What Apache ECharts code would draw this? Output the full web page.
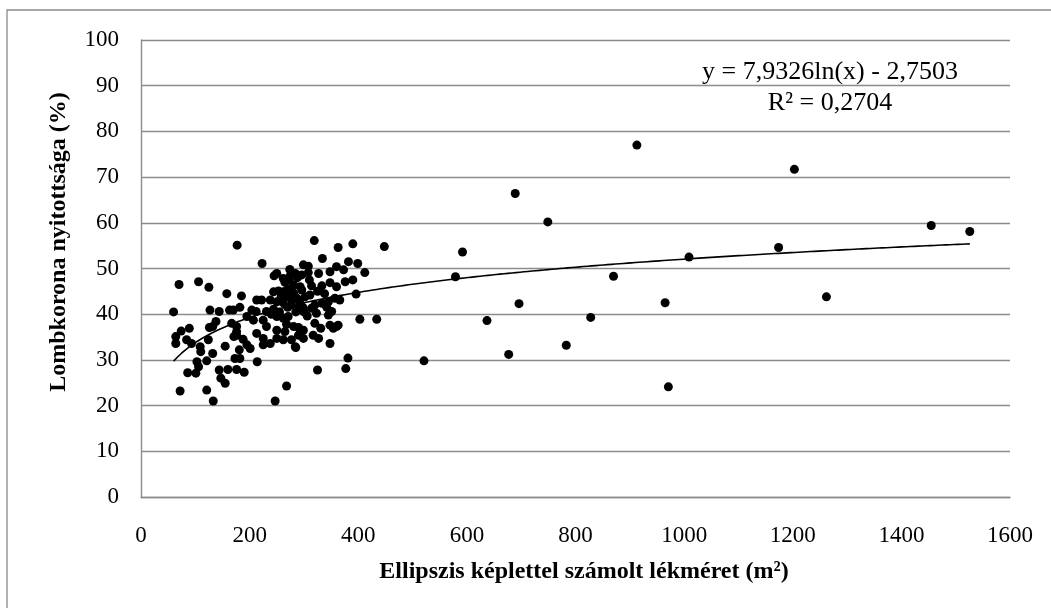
<!DOCTYPE html>
<html>
<head>
<meta charset="utf-8">
<title>Lombkorona nyitottsága</title>
<script src="https://cdn.jsdelivr.net/npm/echarts@6/dist/echarts.min.js"></script>
<style>
  html, body { margin: 0; padding: 0; background: #fff; }
  #chart { width: 1051px; height: 608px; }
</style>
</head>
<body>
<div id="chart"></div>
<script>
// small gaps on the left, x < 165
var leftPoints = [
    [60, 40.5], [64, 35.1], [64, 33.6], [70, 46.5], [72, 23.2], [74, 36.3], [84, 34.4], [86, 27.2],
    [89, 36.9], [93, 33.6], [101, 27.1], [103, 29.6], [106, 28.5], [106, 47.1], [109, 32.9], [110, 31.8],
    [121, 29.8], [121, 23.4], [124, 34.4], [125, 45.9], [127, 40.9], [132, 37.3], [132, 31.4], [133, 21.0],
    [138, 38.4], [144, 40.6], [144, 27.8], [147, 26.0], [155, 24.9], [155, 33.0], [158, 44.5], [160, 27.9],
    [163, 40.9], [126, 37.1]
];

// lower part of the cluster
var lowPoints = [
    [173, 30.3], [176, 27.9], [182, 30.3], [181, 32.2], [190, 27.3], [214, 29.6], [247, 21.0], [268, 24.3],
    [285, 32.7], [325, 27.8], [377, 28.1], [381, 30.4]
];

// the dense cluster, 165..450
var corePoints = [
    [177, 55.1], [319, 56.1], [363, 54.6], [390, 55.4], [448, 54.8], [223, 51.1], [334, 52.2],
    [299, 50.8], [308, 50.5], [274, 49.8], [250, 48.9], [245, 48.4],
    [284, 48.9], [296, 48.6], [308, 49.1], [327, 48.9],
    [348, 49.3], [360, 50.4], [373, 49.7], [382, 51.5], [399, 51.1], [412, 49.1],
    [273, 47.5], [281, 46.4], [293, 46.0], [314, 46.2], [348, 46.9], [360, 46.0], [376, 47.1], [390, 47.5], [333, 46.2],
    [244, 44.9], [253, 45.1], [262, 44.9], [271, 43.8], [281, 44.6], [287, 43.5], [296, 45.3], [311, 44.2],
    [185, 44.0], [213, 43.1], [222, 43.1], [238, 43.1], [250, 42.7], [262, 42.5], [277, 42.0], [290, 41.6], [298, 41.5],
    [320, 42.0], [333, 42.4], [345, 42.7], [357, 43.5], [366, 43.1], [396, 44.4],
    [170, 40.9], [182, 41.5], [204, 40.9], [212, 40.6], [231, 40.6], [244, 41.1], [250, 39.5], [262, 39.1], [271, 39.5],
    [314, 41.3], [323, 40.2], [342, 41.5], [351, 40.6], [345, 39.8], [403, 38.9], [434, 38.9],
    [195, 39.5], [207, 38.7], [225, 38.7], [167, 38.0], [176, 37.3], [231, 37.3], [250, 36.5], [265, 36.2], [281, 37.3],
    [290, 37.1], [299, 36.5], [320, 38.0], [331, 36.9], [348, 37.6], [360, 37.3],
    [176, 35.4], [188, 34.5], [213, 35.8], [225, 34.7], [250, 34.7], [262, 34.4], [290, 35.4], [299, 34.7], [317, 35.4], [327, 34.7],
    [354, 36.9], [363, 37.6], [348, 33.6], [277, 34.4], [284, 32.9], [225, 33.3], [238, 33.6], [195, 33.3], [201, 32.5],
    [171, 35.1], [176, 36.2],
    [265, 47.0], [270, 45.5], [278, 43.0], [285, 40.5], [270, 41.5], [258, 43.8], [292, 43.0], [302, 43.8], [306, 39.6],
    [288, 48.0], [275, 48.5], [262, 47.8], [255, 40.5], [268, 37.8], [240, 40.0], [310, 47.5], [325, 45.0], [338, 44.5], [300, 40.5]
];

// big gaps, x > 500
var farPoints = [
    [521, 29.8], [579, 48.2], [592, 53.6], [637, 38.6], [677, 31.2], [689, 66.4], [696, 42.3], [749, 60.2],
    [783, 33.2], [828, 39.3], [870, 48.3], [913, 77.0], [965, 42.5], [971, 24.1], [1009, 52.5], [1174, 54.6],
    [1203, 71.7], [1262, 43.8], [1455, 59.4], [1526, 58.1]
];

// logarithmic trendline from the chart: y = a ln(x) + b
var trendA = 7.9326;
var trendB = -2.7503;

var xTicks = [0, 200, 400, 600, 800, 1000, 1200, 1400, 1600];

var allPoints = leftPoints.concat(lowPoints, corePoints, farPoints);

var minX = Infinity, maxX = -Infinity;
for (var i = 0; i < allPoints.length; i++) {
    if (allPoints[i][0] < minX) minX = allPoints[i][0];
    if (allPoints[i][0] > maxX) maxX = allPoints[i][0];
}
var trendData = [];
for (var k = 0; k <= 200; k++) {
    var tx = minX + (maxX - minX) * k / 200;
    trendData.push([tx, trendA * Math.log(tx) + trendB]);
}

var serif = '"Liberation Serif", "Times New Roman", serif';
var gridColor = '#8c8c8c';

option = {
    animation: false,
    backgroundColor: '#fff',
    grid: { left: 141, right: 41, top: 40, bottom: 111, containLabel: false },
    xAxis: {
        type: 'value',
        min: xTicks[0],
        max: xTicks[xTicks.length - 1],
        interval: 200,
        axisLine: { show: true, lineStyle: { color: gridColor, width: 1.4 } },
        axisTick: { show: false },
        splitLine: { show: false },
        axisLabel: {
            color: '#000', fontFamily: serif, fontSize: 23, margin: 27,
            formatter: function (v) { return String(v); }
        }
    },
    yAxis: {
        type: 'value',
        min: 0,
        max: 100,
        interval: 10,
        axisLine: { show: true, lineStyle: { color: gridColor, width: 1.4 } },
        axisTick: { show: false },
        splitLine: { show: true, lineStyle: { color: gridColor, width: 1.4 } },
        axisLabel: { color: '#000', fontFamily: serif, fontSize: 23, margin: 22 }
    },
    series: [
        {
            type: 'scatter',
            data: allPoints,
            symbol: 'circle',
            symbolSize: 9,
            itemStyle: { color: '#000', opacity: 1 },
            z: 3
        },
        {
            type: 'line',
            data: trendData,
            showSymbol: false,
            smooth: false,
            lineStyle: { color: '#000', width: 1.6 },
            z: 4
        }
    ],
    graphic: [
        {
            type: 'rect',
            shape: { x: 7, y: 10, width: 1200, height: 800 },
            style: { fill: 'none', stroke: '#8a8a8a', lineWidth: 1.3 },
            silent: true
        },
        {
            type: 'text',
            x: 59, y: 242,
            rotation: Math.PI / 2,
            style: {
                text: 'Lombkorona nyitottsága (%)',
                font: 'bold 24px ' + serif,
                fill: '#000',
                textAlign: 'center',
                textVerticalAlign: 'middle'
            }
        },
        {
            type: 'text',
            x: 584, y: 572,
            style: {
                text: 'Ellipszis képlettel számolt lékméret (m²)',
                font: 'bold 24px ' + serif,
                fill: '#000',
                textAlign: 'center',
                textVerticalAlign: 'middle'
            }
        },
        {
            type: 'text',
            x: 830, y: 72,
            style: {
                text: 'y = 7,9326ln(x) - 2,7503',
                font: '26px ' + serif,
                fill: '#000',
                textAlign: 'center',
                textVerticalAlign: 'middle'
            }
        },
        {
            type: 'text',
            x: 830, y: 103,
            style: {
                text: 'R² = 0,2704',
                font: '26px ' + serif,
                fill: '#000',
                textAlign: 'center',
                textVerticalAlign: 'middle'
            }
        }
    ]
};

var myChart = echarts.init(document.getElementById('chart'));
myChart.setOption(option);
</script>
</body>
</html>
